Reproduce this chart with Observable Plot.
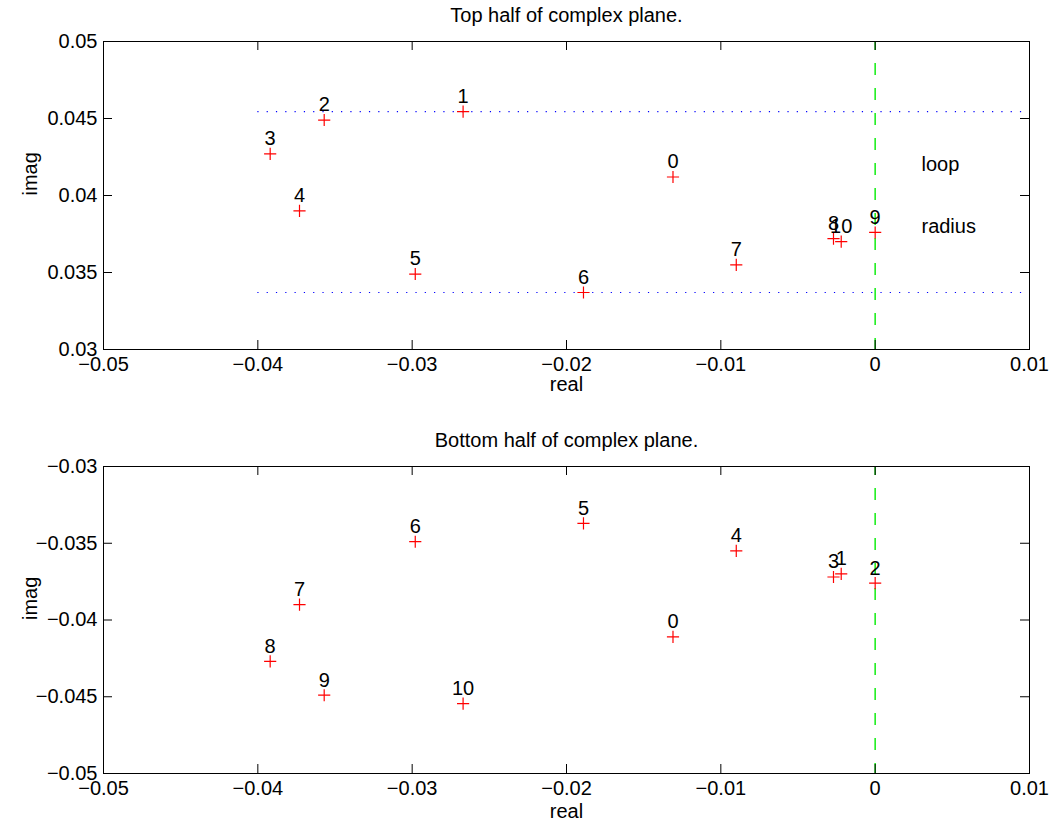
<!DOCTYPE html>
<html><head><meta charset="utf-8">
<script src="https://cdn.jsdelivr.net/npm/d3@7"></script>
<script src="https://cdn.jsdelivr.net/npm/@observablehq/plot@0.6"></script>
<style>
body{margin:0;background:#fff;}
#chart{width:1051px;}
#chart svg{display:block;}
</style></head><body><div id="chart"></div>
<script>
// ---- data ----
const pointLabels = [0, 1, 2, 3, 4, 5, 6, 7, 8, 9, 10];
const topReal = [-0.0131, -0.0267, -0.0357, -0.0392, -0.0373, -0.0298, -0.0189, -0.0090, -0.0027, 0.0000, -0.0022];
const topImag = [0.0412, 0.04545, 0.0449, 0.0427, 0.0390, 0.0349, 0.0337, 0.0355, 0.0372, 0.0376, 0.0370];
const bottomReal = [-0.0131, -0.0022, 0.0000, -0.0027, -0.0090, -0.0189, -0.0298, -0.0373, -0.0392, -0.0357, -0.0267];
const bottomImag = [-0.0411, -0.0370, -0.0376, -0.0372, -0.0355, -0.0337, -0.0349, -0.0390, -0.0427, -0.0449, -0.04545];
const xTicks = [-0.05, -0.04, -0.03, -0.02, -0.01, 0, 0.01];
const topYTicks = [0.03, 0.035, 0.04, 0.045, 0.05];
const bottomYTicks = [-0.05, -0.045, -0.04, -0.035, -0.03];
const radiusLevels = [0.04545, 0.0337];
const radiusSpan = [-0.04, 0.01];
const noteTexts = ["loop", "radius"];
const noteReal = [0.003, 0.003];
const noteImag = [0.042, 0.038];
const titles = ["Top half of complex plane.", "Bottom half of complex plane."];
const xLabel = "real";
const yLabel = "imag";

const FONT = "'Liberation Sans', Arial, Helvetica, sans-serif";
const FS = 20;
const W = 1051, ML = 103, MR = 22, MT = 41;
const fmt = d3.format("~g");

function panel({real, imag, yTicks, yDomain, height, marginBottom, title, labelDy, extras}) {
  const pts = pointLabels.map((l, i) => ({label: l, x: real[i], y: imag[i]}));
  const fh = height - MT - marginBottom;
  const fw = W - ML - MR;
  const T = 9;
  return Plot.plot({
    width: W, height, marginLeft: ML, marginRight: MR, marginTop: MT, marginBottom,
    style: {fontFamily: FONT, fontSize: FS + "px", color: "black", background: "white"},
    x: {domain: [-0.05, 0.01]},
    y: {domain: yDomain},
    marks: [
      ...extras,
      Plot.ruleX([0], {x: d => d, stroke: "#22ee22", strokeWidth: 1.6, strokeDasharray: "12,13", strokeDashoffset: 3}),
      Plot.dot(pts, {x: "x", y: "y", symbol: "plus", r: 4, stroke: "#ff0000", strokeWidth: 1.2}),
      Plot.text(pts, {x: "x", y: "y", text: d => String(d.label), dy: -15, lineAnchor: "middle", fontSize: FS, fill: "black"}),
      Plot.frame({stroke: "black", strokeWidth: 1}),
      Plot.tickX(xTicks, {x: d => d, insetTop: fh - T, stroke: "black"}),
      Plot.tickX(xTicks, {x: d => d, insetBottom: fh - T, stroke: "black"}),
      Plot.tickY(yTicks, {y: d => d, insetRight: fw - T, stroke: "black"}),
      Plot.tickY(yTicks, {y: d => d, insetLeft: fw - T, stroke: "black"}),
      Plot.axisX({ticks: xTicks, tickSize: 0, tickPadding: 7, tickFormat: fmt, label: null, fontSize: FS}),
      Plot.axisY({ticks: yTicks, tickSize: 0, tickPadding: 6, tickFormat: fmt, label: null, fontSize: FS}),
      Plot.text([title], {text: d => d, frameAnchor: "top", dy: -26, lineAnchor: "middle", fontSize: FS, fill: "black"}),
      Plot.text([xLabel], {text: d => d, frameAnchor: "bottom", dy: labelDy, lineAnchor: "middle", fontSize: FS, fill: "black"}),
      Plot.text([yLabel], {text: d => d, frameAnchor: "left", dx: -73, rotate: -90, lineAnchor: "middle", fontSize: FS, fill: "black"})
    ]
  });
}

const topExtras = [
  Plot.ruleY(radiusLevels, {y: d => d, x1: radiusSpan[0], x2: radiusSpan[1], stroke: "#0000ff", strokeWidth: 1.2, strokeDasharray: "1.2,8.1"}),
  Plot.text(noteTexts, {text: d => d, x: (d, i) => noteReal[i], y: (d, i) => noteImag[i], textAnchor: "start", lineAnchor: "middle", fontSize: FS, fill: "black"})
];

const chart = document.getElementById("chart");
chart.append(panel({real: topReal, imag: topImag, yTicks: topYTicks, yDomain: [0.03, 0.05], height: 425, marginBottom: 76, title: titles[0], labelDy: 35, extras: topExtras}));
chart.append(panel({real: bottomReal, imag: bottomImag, yTicks: bottomYTicks, yDomain: [-0.05, -0.03], height: 400, marginBottom: 52, title: titles[1], labelDy: 38, extras: []}));
</script></body></html>
